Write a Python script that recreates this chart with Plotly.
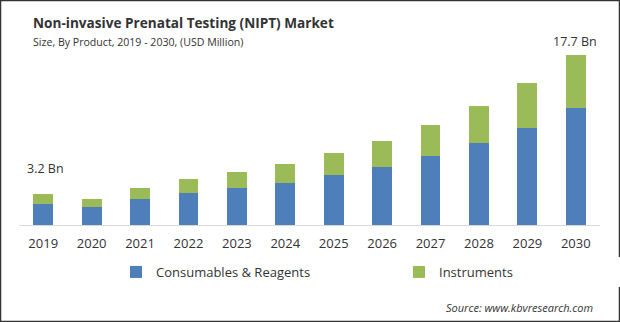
import plotly.graph_objects as go

years = ["2019", "2020", "2021", "2022", "2023", "2024",
         "2025", "2026", "2027", "2028", "2029", "2030"]
consumables = [2.19, 1.88, 2.71, 3.33, 3.85, 4.38, 5.21, 6.04, 7.19, 8.54, 10.10, 12.19]
instruments = [1.01, 0.83, 1.14, 1.46, 1.67, 1.97, 2.29, 2.71, 3.23, 3.86, 4.69, 5.51]
totals = [round(c + i, 1) for c, i in zip(consumables, instruments)]
value_labels = {"2019": "3.2 Bn", "2030": "17.7 Bn"}

BLUE = "#4f7fbb"
GREEN = "#9bbb59"
FONT = "Open Sans"

fig = go.Figure()
fig.add_trace(go.Bar(x=years, y=consumables, name="Consumables & Reagents",
                     marker=dict(color=BLUE, line=dict(width=0))))
fig.add_trace(go.Bar(x=years, y=instruments, name="Instruments",
                     marker=dict(color=GREEN, line=dict(width=0))))

PW, PH = 581, 185  # plot area size in px
annotations = [
    dict(text="<b>Non-invasive Prenatal Testing (NIPT) Market</b>", xref="paper", yref="paper",
         x=(31 - 19) / PW, y=(225 - 22) / PH, xanchor="left", yanchor="middle",
         showarrow=False, font=dict(family=FONT, size=13.6, color="#333333")),
    dict(text="Size, By Product, 2019 - 2030, (USD Million)", xref="paper", yref="paper",
         x=(31 - 19) / PW, y=(225 - 42) / PH, xanchor="left", yanchor="middle",
         showarrow=False, font=dict(family=FONT, size=10.6, color="#333333")),
    dict(text="<i>Source: www.kbvresearch.com</i>", xref="paper", yref="paper",
         x=(595 - 19) / PW, y=(225 - 307) / PH, xanchor="right", yanchor="middle",
         showarrow=False, font=dict(family=FONT, size=11, color="#333333")),
]
for yr, txt in value_labels.items():
    idx = years.index(yr)
    first = yr == years[0]
    annotations.append(dict(text=txt, x=idx, y=totals[idx], xref="x", yref="y",
                            yanchor="bottom", showarrow=False,
                            yshift=15 if first else 3, xshift=2 if first else -1,
                            font=dict(family=FONT, size=12.5, color="#333333")))

fig.update_layout(
    width=620, height=322,
    margin=dict(l=19, r=20, t=40, b=97, autoexpand=False),
    paper_bgcolor="white", plot_bgcolor="white",
    barmode="stack", bargap=0.59,
    font=dict(family=FONT, size=13, color="#333333"),
    xaxis=dict(type="category", range=[-0.5, len(years) - 0.5],
               showline=True, linecolor="#d9d9d9", linewidth=1,
               ticks="outside", ticklen=6, tickcolor="rgba(0,0,0,0)",
               showgrid=False, tickfont=dict(size=13)),
    yaxis=dict(range=[0, PH / 9.6], visible=False, showgrid=False),
    legend=dict(orientation="h", traceorder="normal", x=(116 - 19) / PW, y=(225 - 272) / PH,
                xanchor="left", yanchor="middle", entrywidth=238, entrywidthmode="pixels",
                font=dict(family=FONT, size=13, color="#333333"), itemwidth=30),
    annotations=annotations,
    shapes=[dict(type="rect", xref="paper", yref="paper",
                 x0=-18.5 / PW, x1=1 + 19.5 / PW,
                 y0=-96.5 / PH, y1=1 + 39.5 / PH,
                 line=dict(color="#333333", width=1.5))],
    showlegend=True,
)

fig.write_html("out.html")
